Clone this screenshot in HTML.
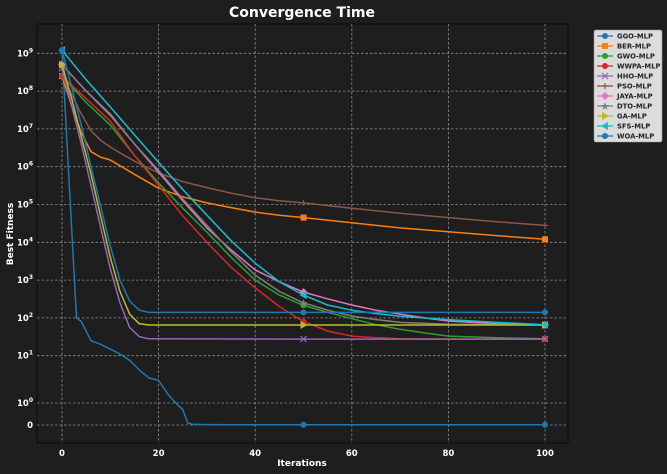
<!DOCTYPE html>
<html><head><meta charset="utf-8"><style>
html,body{margin:0;padding:0;background:#1e1e1e;}
svg{display:block;font-family:"DejaVu Sans","Liberation Sans",sans-serif;}
</style></head><body>
<svg id="chart" width="667" height="474" viewBox="0 0 667 474">
<rect x="0" y="0" width="667" height="474" fill="#1e1e1e"/>
<rect x="37" y="24" width="531" height="419" fill="#1e1e1e" stroke="#0a0a0a" stroke-width="1"/>
<text x="302" y="17" fill="#fff" font-size="14" font-weight="bold" text-anchor="middle">Convergence Time</text>
<text x="302" y="466" fill="#fff" font-size="9" font-weight="bold" text-anchor="middle">Iterations</text>
<text x="13" y="234" fill="#fff" font-size="9" font-weight="bold" text-anchor="middle" transform="rotate(-90 13 234)">Best Fitness</text>
<g id="grid"></g><g id="series"></g><g id="legend"></g>
</svg>
<script>
const xTicks=[0,20,40,60,80,100];
const yTickVals=[0,1,10,100,1e3,1e4,1e5,1e6,1e7,1e8,1e9];
const yTickExp=["0","0","1","2","3","4","5","6","7","8","9"];
const seriesNames=["GGO-MLP","BER-MLP","GWO-MLP","WWPA-MLP","HHO-MLP","PSO-MLP","JAYA-MLP","DTO-MLP","GA-MLP","SFS-MLP","WOA-MLP"];
const seriesColors=["#1f77b4","#ff7f0e","#2ca02c","#d62728","#9467bd","#8c564b","#e377c2","#7f7f7f","#bcbd22","#17becf","#1f77b4"];
const seriesMarkers=["circle","square","circle","circle","x","plus","diamond","star","triR","triL","circle"];
const ggoIter=[0,3,4,6,8,10,12,14,16,18,20,22,24,25,26,27,30,50,100];
const ggoVals=[1.2e9,100,80,25,20,15,11,8,5,3.4,3,1.5,0.9,0.7,0.1,0.03,0.02,0.01,0.01];
const berIter=[0,2,4,6,8,10,15,20,25,30,35,40,45,50,60,70,80,90,100];
const berVals=[2.5e8,4e7,8e6,2.5e6,1.8e6,1.5e6,6.3e5,2.7e5,1.6e5,1.1e5,8.3e4,6.3e4,5.2e4,4.5e4,3.3e4,2.4e4,1.9e4,1.5e4,1.2e4];
const gwoIter=[0,5,10,15,20,25,30,35,40,45,50,55,60,65,70,75,80,90,100];
const gwoVals=[2.5e8,5e7,1.26e7,2e6,3.7e5,8e4,1.86e4,4e3,1e3,400,214,141,95,66,50,40,33,30,28];
const wwpaIter=[0,5,10,15,20,25,30,35,40,45,50,55,60,65,70,80,100];
const wwpaVals=[2.5e8,6.3e7,1.6e7,2e6,3.2e5,5e4,1e4,2.2e3,620,200,80,45,33,30,28,27.5,27.5];
const hhoIter=[0,2,4,6,8,10,12,14,16,18,50,100];
const hhoVals=[4e8,4e7,4e6,3.2e5,2.5e4,2e3,250,56,32,28,27.5,27.5];
const psoIter=[0,2,4,6,8,10,15,20,25,30,35,40,45,50,60,70,80,90,100];
const psoVals=[2.5e8,8e7,2.5e7,9e6,5e6,3.3e6,1.4e6,6.8e5,4e5,2.8e5,2e5,1.5e5,1.26e5,1.1e5,8e4,5.9e4,4.5e4,3.5e4,2.8e4];
const jayaIter=[0,5,10,15,20,25,30,35,40,45,50,55,60,65,70,75,80,90,100];
const jayaVals=[5e8,1e8,2.3e7,4e6,7.2e5,1.26e5,2.4e4,6.3e3,1.86e3,900,480,320,220,160,126,100,83,70,65];
const dtoIter=[0,5,10,15,20,25,30,35,40,45,50,55,60,65,70,80,100];
const dtoVals=[5e8,1e8,2.5e7,4e6,8e5,1.4e5,2.8e4,5.6e3,1.35e3,500,250,160,112,90,76,68,65];
const gaIter=[0,2,4,6,8,10,12,14,16,18,50,100];
const gaVals=[5e8,6.3e7,6.3e6,6.3e5,5e4,4e3,500,126,70,65,65,65];
const sfsIter=[0,5,10,15,20,25,30,35,40,45,50,55,60,65,70,80,90,100];
const sfsVals=[1.2e9,2e8,3.8e7,7e6,1.3e6,2.5e5,5.2e4,1.1e4,2.8e3,900,400,220,160,130,110,90,76,66];
const woaIter=[0,2,4,6,8,10,12,14,16,18,50,100];
const woaVals=[1.2e9,1.26e8,1.26e7,1e6,9e4,8e3,1e3,280,160,140,140,140];
const allIter=[ggoIter,berIter,gwoIter,wwpaIter,hhoIter,psoIter,jayaIter,dtoIter,gaIter,sfsIter,woaIter];
const allVals=[ggoVals,berVals,gwoVals,wwpaVals,hhoVals,psoVals,jayaVals,dtoVals,gaVals,sfsVals,woaVals];
const markerIters=[0,50,100];

const NS="http://www.w3.org/2000/svg";
function xScale(i){return 62+(545-62)*i/100;}
function yScale(v){
  if(v<=1) return 425-22*v;
  if(v<10) return 403-47.3*Math.log10(v);
  return 355.7-37.8*(Math.log10(v)-1);
}
function valAt(it,vals,i){
  for(let k=0;k<it.length-1;k++){ if(i>=it[k]&&i<=it[k+1]){const t=(i-it[k])/(it[k+1]-it[k]);return vals[k]+(vals[k+1]-vals[k])*t;} }
  return vals[vals.length-1];
}
function mk(tag,attrs,parent){const e=document.createElementNS(NS,tag);for(const k in attrs)e.setAttribute(k,attrs[k]);parent.appendChild(e);return e;}
const grid=document.getElementById('grid');
xTicks.forEach(t=>{
  const l=mk('line',{x1:xScale(t),x2:xScale(t),y1:24,y2:443,stroke:'#bbb','stroke-width':0.8,'stroke-dasharray':'2.5,2','stroke-opacity':0.7},grid);
  
  
  const tx=mk('text',{x:xScale(t),y:456,fill:'#fff','font-size':8.5,'font-weight':'bold','text-anchor':'middle'},grid);
  tx.textContent=t;
  
  
});
yTickVals.forEach((v,k)=>{
  const y=yScale(v);
  const l=mk('line',{x1:37,x2:568,y1:y,y2:y,stroke:'#bbb','stroke-width':0.8,'stroke-dasharray':'2.5,2','stroke-opacity':0.7},grid);
  
  
  const tx=mk('text',{x:33,y:y+3,fill:'#fff','font-size':8.5,'font-weight':'bold','text-anchor':'end'},grid);
  
  
  if(v===0){tx.textContent='0';}
  else{tx.textContent='10';const s=mk('tspan',{dy:-4,'font-size':6},tx);s.textContent=yTickExp[k];}
});
function drawMarker(g,type,x,y,c){
  let m;
  if(type==='circle') m=mk('circle',{cx:x,cy:y,r:3,fill:c},g);
  else if(type==='square') m=mk('rect',{x:x-3,y:y-3,width:6,height:6,fill:c},g);
  else if(type==='diamond') m=mk('polygon',{points:`${x},${y-4} ${x+4},${y} ${x},${y+4} ${x-4},${y}`,fill:c},g);
  else if(type==='x') m=mk('path',{d:`M${x-3},${y-3}L${x+3},${y+3}M${x-3},${y+3}L${x+3},${y-3}`,stroke:c,'stroke-width':1.2},g);
  else if(type==='plus') m=mk('path',{d:`M${x-3},${y}L${x+3},${y}M${x},${y-3}L${x},${y+3}`,stroke:c,'stroke-width':1.2},g);
  else if(type==='star') m=mk('polygon',{points:`${x},${y-4} ${x+1},${y-1} ${x+4},${y-1} ${x+1.5},${y+1} ${x+2.5},${y+4} ${x},${y+2} ${x-2.5},${y+4} ${x-1.5},${y+1} ${x-4},${y-1} ${x-1},${y-1}`,fill:c},g);
  else if(type==='triR') m=mk('polygon',{points:`${x+4},${y} ${x-3},${y-4} ${x-3},${y+4}`,fill:c},g);
  else m=mk('polygon',{points:`${x-4},${y} ${x+3},${y-4} ${x+3},${y+4}`,fill:c},g);
  
  
}
const sg=document.getElementById('series');
seriesNames.forEach((n,s)=>{
  const g=mk('g',{},sg);
  
  
  const it=allIter[s],vals=allVals[s];
  const pts=it.map((i,k)=>xScale(i).toFixed(1)+','+yScale(vals[k]).toFixed(1)).join(' ');
  const p=mk('polyline',{points:pts,fill:'none',stroke:seriesColors[s],'stroke-width':1.5,'stroke-linejoin':'round'},g);
  
  
  markerIters.forEach(i=>drawMarker(g,seriesMarkers[s],xScale(i),yScale(valAt(it,vals,i)),seriesColors[s]));
});
const lg=document.getElementById('legend');
const box=mk('rect',{x:594,y:30,width:68,height:112,fill:'#dcdcdc',stroke:'#999','stroke-width':0.6,rx:2},lg);


seriesNames.forEach((n,s)=>{
  const y=36+s*10;
  const g=mk('g',{},lg);
  
  
  mk('line',{x1:597,x2:613,y1:y,y2:y,stroke:seriesColors[s],'stroke-width':1.3},g);
  drawMarker(g,seriesMarkers[s],605,y,seriesColors[s]);
  const t=mk('text',{x:617,y:y+2.5,fill:'#222','font-size':6.8,'font-weight':'bold'},g);
  t.textContent=n;
});
</script>
</body></html>
